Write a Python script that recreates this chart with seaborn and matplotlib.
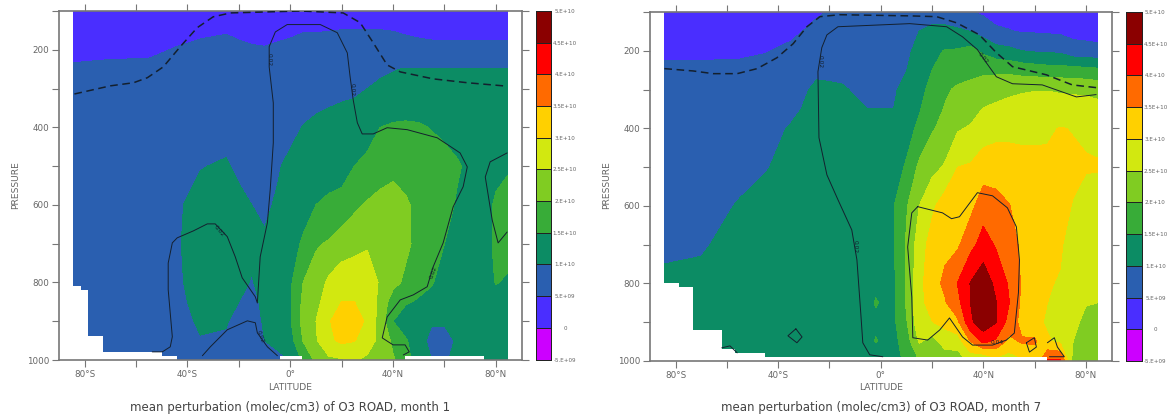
import numpy as np
import matplotlib
matplotlib.use("Agg")
import matplotlib.pyplot as plt
from matplotlib.colors import ListedColormap
import seaborn as sns

# pressure rows shared by both panels (hPa)
PRESSURE = [100, 150, 200, 250, 300, 350, 400, 500, 600, 700, 800, 850, 900, 950, 1000]

# colour bands, in units of 1e10 molec/cm3
LEVELS = [-0.5, 0, 0.5, 1.0, 1.5, 2.0, 2.5, 3.0, 3.5, 4.0, 4.5, 5.0]
LEVEL_LABELS = ["-5.E+09", "0", "5.E+09", "1.E+10", "1.5E+10", "2.E+10", "2.5E+10",
                "3.E+10", "3.5E+10", "4.E+10", "4.5E+10", "5.E+10"]
BAND_COLORS = ["#cc00ff", "#4a2eff", "#2a5fb0", "#0c8c64", "#38ac38", "#80cc22",
               "#d2e810", "#ffd000", "#ff6a00", "#ff0000", "#8b0000"]

# month 1: one row per latitude, one value per pressure row
LAT_JAN = [-84.5, -70, -55, -45, -35, -25, -20, -15, -10, -5, 0, 5, 10, 15, 20, 25, 30, 35,
           40, 45, 50, 55, 60, 65, 70, 75, 80, 84.5]
O3_JAN = [
    [.2, .3, .4, .55, .6, .65, .7, .75, .8, .8, .8, .8, .8, .8, .8],
    [.2, .33, .42, .58, .62, .65, .7, .75, .8, .8, .8, .8, .8, .8, .8],
    [.2, .35, .42, .6, .65, .68, .7, .75, .8, .85, .85, .85, .85, .8, .8],
    [.2, .36, .52, .65, .7, .72, .75, .82, .92, .93, .92, .9, .85, .8, .75],
    [.2, .42, .6, .7, .75, .78, .8, .98, 1.15, 1.2, 1.15, 1.1, 1.05, .98, .8],
    [.2, .47, .62, .7, .75, .78, .82, 1.05, 1.2, 1.25, 1.2, 1.15, 1.03, .95, .75],
    [.2, .42, .58, .68, .72, .75, .78, .9, 1.12, 1.2, 1.08, 1.0, .88, .78, .72],
    [.2, .37, .55, .66, .7, .72, .75, .85, 1.0, 1.08, .98, .9, .82, .75, .7],
    [.2, .36, .53, .66, .7, .72, .75, .8, .93, 1.05, 1.1, 1.08, 1.05, 1.0, .9],
    [.2, .38, .58, .68, .72, .75, .78, .95, 1.05, 1.08, 1.1, 1.1, 1.1, 1.05, .95],
    [.2, .42, .62, .7, .75, .8, .85, 1.12, 1.25, 1.35, 1.42, 1.45, 1.45, 1.3, 1.0],
    [.2, .47, .7, .75, .8, .85, 1.02, 1.2, 1.35, 1.55, 2.0, 2.1, 2.15, 2.02, 1.6],
    [.2, .47, .72, .8, .85, .95, 1.1, 1.3, 1.5, 1.95, 2.2, 2.35, 2.5, 2.45, 2.1],
    [.2, .49, .72, .82, .9, 1.0, 1.2, 1.38, 1.55, 2.05, 2.6, 2.75, 2.95, 2.9, 2.4],
    [.2, .51, .75, .85, .95, 1.02, 1.22, 1.35, 1.62, 2.3, 2.72, 3.0, 3.3, 3.1, 2.45],
    [.2, .52, .78, .9, .95, 1.05, 1.2, 1.5, 1.9, 2.35, 2.8, 3.0, 3.25, 3.02, 2.55],
    [.2, .52, .78, .92, 1.0, 1.12, 1.3, 1.62, 2.05, 2.45, 2.75, 2.85, 2.9, 2.75, 2.4],
    [.2, .51, .75, .95, 1.05, 1.25, 1.5, 1.85, 2.1, 2.4, 2.45, 2.35, 2.3, 2.35, 2.4],
    [.2, .49, .68, .98, 1.1, 1.35, 1.55, 1.9, 2.15, 2.25, 2.15, 1.75, 1.5, 1.9, 2.05],
    [.2, .45, .65, 1.02, 1.15, 1.4, 1.55, 1.85, 2.05, 2.1, 1.9, 1.55, 1.2, 1.55, 1.75],
    [.2, .42, .62, 1.02, 1.15, 1.35, 1.55, 1.8, 1.9, 1.85, 1.65, 1.45, 1.15, 1.2, 1.15],
    [.2, .4, .6, 1.02, 1.12, 1.3, 1.48, 1.7, 1.8, 1.7, 1.55, 1.3, 1.05, .85, 1.0],
    [.2, .4, .6, 1.02, 1.1, 1.25, 1.4, 1.65, 1.65, 1.5, 1.25, 1.15, 1.05, .85, .95],
    [.2, .4, .6, 1.01, 1.08, 1.18, 1.3, 1.55, 1.45, 1.3, 1.2, 1.15, 1.1, 1.05, 1.1],
    [.2, .4, .6, 1.01, 1.08, 1.15, 1.25, 1.4, 1.35, 1.25, 1.2, 1.15, 1.1, 1.1, 1.1],
    [.2, .4, .6, 1.01, 1.07, 1.12, 1.2, 1.3, 1.35, 1.38, 1.3, 1.2, 1.15, 1.12, 1.1],
    [.2, .4, .6, 1.02, 1.07, 1.12, 1.2, 1.4, 1.55, 1.55, 1.52, 1.3, 1.2, 1.15, 1.1],
    [.2, .4, .6, 1.02, 1.08, 1.15, 1.25, 1.45, 1.65, 1.65, 1.45, 1.3, 1.2, 1.15, 1.1],
]

# month 7
LAT_JUL = [-84.5, -70, -55, -45, -35, -25, -20, -15, -10, -5, -2, 5, 10, 15, 20, 25, 30, 35,
           40, 45, 50, 55, 60, 65, 70, 75, 80, 84.5]
O3_JUL = [
    [.2, .35, .45, .55, .6, .65, .7, .8, .87, .95, 1.05, 1.1, 1.1, 1.1, 1.1],
    [.2, .35, .44, .56, .62, .68, .72, .82, .9, .97, 1.07, 1.1, 1.15, 1.15, 1.15],
    [.2, .35, .44, .58, .68, .75, .8, .92, 1.02, 1.1, 1.15, 1.15, 1.15, 1.15, 1.15],
    [.2, .38, .48, .62, .75, .82, .88, .98, 1.1, 1.15, 1.2, 1.2, 1.2, 1.2, 1.2],
    [.25, .42, .58, .7, .82, .92, 1.03, 1.1, 1.15, 1.2, 1.2, 1.2, 1.2, 1.25, 1.2],
    [.45, .6, .7, .92, 1.08, 1.12, 1.15, 1.2, 1.2, 1.2, 1.2, 1.2, 1.2, 1.2, 1.2],
    [.52, .65, .75, .93, 1.05, 1.12, 1.15, 1.2, 1.2, 1.2, 1.2, 1.2, 1.2, 1.2, 1.2],
    [.55, .7, .78, .92, 1.03, 1.1, 1.15, 1.2, 1.25, 1.25, 1.25, 1.25, 1.25, 1.25, 1.2],
    [.55, .7, .8, .88, .97, 1.05, 1.12, 1.2, 1.25, 1.3, 1.3, 1.3, 1.3, 1.3, 1.2],
    [.55, .72, .82, .88, .93, 1.0, 1.08, 1.2, 1.3, 1.35, 1.4, 1.4, 1.4, 1.4, 1.1],
    [.55, .72, .85, .9, .95, 1.0, 1.08, 1.2, 1.3, 1.38, 1.44, 1.52, 1.44, 1.52, .85],
    [.6, .8, .88, .92, .96, 1.0, 1.1, 1.3, 1.48, 1.45, 1.42, 1.4, 1.4, 1.35, 1.3],
    [.6, .78, .9, .99, 1.1, 1.2, 1.32, 1.55, 1.95, 2.05, 2.05, 2.05, 1.95, 1.75, 1.6],
    [.72, 1.0, 1.15, 1.25, 1.35, 1.45, 1.6, 2.1, 2.5, 2.75, 2.85, 2.85, 2.85, 2.55, 2.0],
    [.85, 1.08, 1.4, 1.5, 1.65, 1.85, 1.95, 2.35, 2.9, 3.2, 3.3, 3.2, 2.98, 2.3, 1.9],
    [.8, 1.1, 1.52, 1.75, 1.95, 2.02, 2.15, 2.55, 3.25, 3.38, 3.6, 3.45, 3.15, 2.7, 2.2],
    [.75, 1.05, 1.55, 1.85, 2.05, 2.25, 2.45, 3.0, 3.25, 3.42, 4.02, 3.85, 3.4, 2.75, 2.2],
    [.53, 1.0, 1.65, 1.9, 2.1, 2.3, 2.55, 3.05, 3.35, 3.85, 4.52, 4.5, 4.4, 3.5, 2.6],
    [.42, .8, 1.4, 1.92, 2.2, 2.52, 2.75, 3.25, 3.78, 4.2, 4.85, 4.9, 4.85, 4.1, 2.4],
    [.38, .55, 1.2, 1.9, 2.3, 2.6, 2.82, 3.3, 3.65, 3.95, 4.35, 4.52, 4.52, 3.9, 2.8],
    [.35, .52, 1.12, 1.88, 2.4, 2.65, 2.88, 3.2, 3.52, 3.75, 3.95, 4.02, 3.8, 3.35, 2.7],
    [.32, .47, 1.0, 1.8, 2.45, 2.68, 2.88, 3.15, 3.3, 3.4, 3.45, 3.4, 3.35, 3.55, 2.9],
    [.3, .46, .95, 1.75, 2.48, 2.7, 2.9, 3.12, 3.2, 3.25, 3.25, 3.2, 3.1, 3.6, 3.0],
    [.3, .44, .92, 1.7, 2.48, 2.72, 2.93, 3.1, 3.12, 3.08, 3.03, 3.0, 2.95, 3.05, 4.1],
    [.3, .42, .9, 1.7, 2.45, 2.7, 3.02, 3.15, 3.12, 3.05, 2.97, 2.85, 2.8, 2.9, 4.1],
    [.3, .37, .68, 1.68, 2.43, 2.7, 2.98, 3.08, 2.98, 2.8, 2.72, 2.65, 2.6, 2.5, 2.3],
    [.3, .35, .65, 1.65, 2.4, 2.7, 2.95, 3.03, 2.85, 2.7, 2.6, 2.52, 2.4, 2.25, 2.2],
    [.3, .33, .62, 1.6, 2.35, 2.65, 2.9, 3.03, 2.8, 2.65, 2.55, 2.5, 2.3, 2.2, 2.15],
]

# ground surface, everything below it has no data
SURF_LAT_JAN = [-85, -81.4, -78.6, -72.8, -50, -44, -3.9, 4.7, 44.7, 75.5, 85]
SURF_P_JAN = [809, 819, 938, 979, 989, 1000, 989, 1000, 989, 1000, 1000]
SURF_LAT_JUL = [-85, -78.6, -73.3, -62, -57, -45, 56, 65, 85]
SURF_P_JUL = [799, 809, 920, 969, 979, 990, 989, 1000, 1000]

# tropopause (dashed)
TROP_LAT_JAN = [-84, -70, -61, -55.6, -49.4, -42.8, -36.2, -30, -23.3, 4, 20.6, 27.2, 32.3, 37.7, 42.8, 55.6, 68.9, 82.9]
TROP_P_JAN = [314, 293, 285, 272, 244, 192, 143, 115, 105, 100, 105, 130, 182, 239, 257, 275, 285, 293]
TROP_LAT_JUL = [-84.4, -73.2, -65.4, -56, -48.2, -40.5, -34.2, -28.8, -23.7, -16, 11.3, 21.8, 29.6, 38.5, 45.1, 51.4, 64.6, 74.7, 84]
TROP_P_JUL = [246, 252, 259, 259, 246, 218, 182, 138, 112, 107, 110, 112, 128, 159, 205, 241, 262, 288, 295]

# 0.02 and 0.04 contour lines
LINE_A_LAT_JAN = [-53.7, -49.8, -46.7, -45.9, -47.5, -47.5, -45.9, -44, -37.7, -32.3, -29.2, -24.5, -21.4, -18.7, -13.6, -12.8,
                  -11.7, -8.9, -7.8, -6.6, -6.6, -8.2, -8.2, -5.8, -1.2, 11.7, 18.3, 22.2, 23.3, 24.5, 26.1, 28, 32.3, 37.7,
                  45.5, 57.2, 66.1, 68.9, 67.3, 63.4, 59.5, 55.6, 53.3, 47.9, 42.8, 37.7, 35.8, 40, 44.7, 46.3, 44]
LINE_A_P_JAN = [979, 979, 966, 940, 819, 750, 698, 685, 667, 649, 649, 682, 734, 788, 837, 853,
                734, 646, 561, 440, 337, 244, 192, 154, 135, 135, 156, 208, 270, 329, 388, 417, 417, 401,
                406, 427, 466, 502, 553, 605, 698, 760, 811, 832, 845, 889, 943, 961, 961, 979, 987]
LINE_B_LAT_JAN = [84.4, 77.8, 75.9, 78.6, 80.9, 84.4]
LINE_B_P_JAN = [466, 489, 528, 639, 698, 670]
LINE_C_LAT_JAN = [-34.2, -31.1, -24.5, -16.7, -13.6, -12.8, -8.9, -5]
LINE_C_P_JAN = [989, 966, 922, 899, 904, 930, 966, 989]

LINE_A_LAT_JUL = [0.8, -4.3, -7, -7.8, -9.3, -11.3, -16.7, -21, -24.1, -24.5, -23, -21, -16.7, 11.3, 25.7, 31.9, 37.7, 41.2, 45.1, 51.4, 63, 76.3, 84]
LINE_A_P_JUL = [989, 984, 953, 876, 739, 662, 584, 520, 424, 254, 192, 159, 138, 130, 138, 164, 197, 231, 267, 285, 288, 319, 313]
LINE_B_LAT_JUL = [14.4, 24.1, 27.6, 30.7, 37.7, 43.6, 49.4, 52.9, 54.1, 53.7, 52.1, 49, 43.6, 35.8, 31.9, 26.8, 23, 18.3, 12.5, 12.1, 10.5, 12.1, 14.4]
LINE_B_P_JUL = [602, 618, 633, 628, 566, 574, 605, 654, 739, 824, 928, 946, 959, 959, 938, 889, 920, 946, 940, 835, 706, 618, 602]
LINE_C_LAT_JUL = [-33.1, -30.7, -32.7, -36.2, -33.1]
LINE_C_P_JUL = [917, 938, 953, 935, 917]
LINE_D_LAT_JUL = [-62, -58.8, -56]
LINE_D_P_JUL = [966, 961, 979]
LINE_E_LAT_JUL = [56.8, 59.9, 60.7, 58, 56.8]
LINE_E_P_JUL = [953, 940, 964, 977, 953]
LINE_F_LAT_JUL = [65, 67.7, 68.9, 71.6, 65.8]
LINE_F_P_JUL = [953, 940, 964, 989, 989]

# contour line labels: lat, pressure, text, rotation
LABELS_JAN = [(-8.2, 226, "0.02", -90), (24, 303, "0.02", -90), (55.6, 775, "0.02", 70),
              (-27.6, 667, "0.02", -50), (-11.7, 940, "0.02", -70)]
LABELS_JUL = [(-23.7, 228, "0.02", -90), (-10.1, 706, "0.02", -90), (39.7, 218, "0.02", -50),
              (45.5, 953, "0.04", 0)]

TITLE_JAN = "mean perturbation (molec/cm3) of O3 ROAD, month 1"
TITLE_JUL = "mean perturbation (molec/cm3) of O3 ROAD, month 7"

LAT_TICKS = [-80, -60, -40, -20, 0, 20, 40, 60, 80]
LAT_TICK_LABELS = ["80°S", "", "40°S", "", "0°", "", "40°N", "", "80°N"]
P_TICKS = [100, 200, 300, 400, 500, 600, 700, 800, 900, 1000]
P_TICK_LABELS = ["", "200", "", "400", "", "600", "", "800", "", "1000"]

W, H = 1168, 418
GRAY = "#777777"
TEXT = "#666666"
LINE = "#14202e"


def px_axes(fig, left, top, right, bottom):
    return fig.add_axes([left / W, 1 - bottom / H, (right - left) / W, (bottom - top) / H])


def draw_panel(fig, box, cbar_box, lats, values, surf, trop, lines, labels, title):
    ax = px_axes(fig, *box)
    ax.contourf(lats, PRESSURE, np.array(values).T, levels=LEVELS, colors=BAND_COLORS)
    ax.fill_between(surf[0], surf[1], 1000, step="post", color="white", lw=0, zorder=2)
    ax.plot(trop[0], trop[1], color=LINE, lw=1.1, dashes=(5, 3), zorder=3)
    for lat, pres in lines:
        ax.plot(lat, pres, color=LINE, lw=0.7, zorder=3)
    for lat, pres, txt, rot in labels:
        ax.text(lat, pres, txt, fontsize=4.2, color=LINE, rotation=rot, ha="center", va="center", zorder=4)

    ax.set_xlim(-90, 90)
    ax.set_ylim(1000, 100)
    ax.set_xticks(LAT_TICKS, LAT_TICK_LABELS)
    ax.set_yticks(P_TICKS, P_TICK_LABELS)
    ax.tick_params(axis="both", length=5, width=0.8, color=GRAY, labelcolor=TEXT, labelsize=6.3, pad=2,
                   top=True, right=True)
    for spine in ax.spines.values():
        spine.set_visible(True)
        spine.set_color(GRAY)
        spine.set_linewidth(1.2)

    mid = (box[0] + box[2]) / 2
    fig.text(mid / W, 1 - 387 / H, "LATITUDE", fontsize=6.6, color=TEXT, ha="center", va="center")
    fig.text(mid / W, 1 - 408 / H, title, fontsize=8.5, color="#444444", ha="center", va="center")
    fig.text((box[0] - 43) / W, 1 - 185 / H, "PRESSURE", fontsize=6.6, color=TEXT, rotation=90,
             ha="center", va="center")

    # colour key, top band first
    cax = px_axes(fig, *cbar_box)
    key = np.array(LEVELS[:-1])[::-1].reshape(-1, 1)
    sns.heatmap(key, ax=cax, cmap=ListedColormap(BAND_COLORS), vmin=-0.5, vmax=5.0, cbar=False,
                linewidths=0.7, linecolor="#222222", xticklabels=False, clip_on=False)
    cax.yaxis.tick_right()
    cax.set_yticks(np.arange(len(LEVELS)), LEVEL_LABELS[::-1], rotation=0, ha="center")
    cax.tick_params(axis="y", length=0, labelsize=4.1, labelcolor=TEXT, pad=10)
    return ax


sns.set_theme(style="ticks")
plt.rcParams["font.family"] = "DejaVu Sans"

fig = plt.figure(figsize=(W / 100, H / 100), dpi=100)

draw_panel(fig, (59, 11, 521.5, 360), (536, 11, 551, 359.5), LAT_JAN, O3_JAN,
           (SURF_LAT_JAN, SURF_P_JAN), (TROP_LAT_JAN, TROP_P_JAN),
           [(LINE_A_LAT_JAN, LINE_A_P_JAN), (LINE_B_LAT_JAN, LINE_B_P_JAN), (LINE_C_LAT_JAN, LINE_C_P_JAN)],
           LABELS_JAN, TITLE_JAN)
draw_panel(fig, (650, 12, 1111.5, 361), (1126, 12, 1141.5, 361), LAT_JUL, O3_JUL,
           (SURF_LAT_JUL, SURF_P_JUL), (TROP_LAT_JUL, TROP_P_JUL),
           [(LINE_A_LAT_JUL, LINE_A_P_JUL), (LINE_B_LAT_JUL, LINE_B_P_JUL), (LINE_C_LAT_JUL, LINE_C_P_JUL),
            (LINE_D_LAT_JUL, LINE_D_P_JUL), (LINE_E_LAT_JUL, LINE_E_P_JUL), (LINE_F_LAT_JUL, LINE_F_P_JUL)],
           LABELS_JUL, TITLE_JUL)

fig.savefig("out.png", dpi=100)
